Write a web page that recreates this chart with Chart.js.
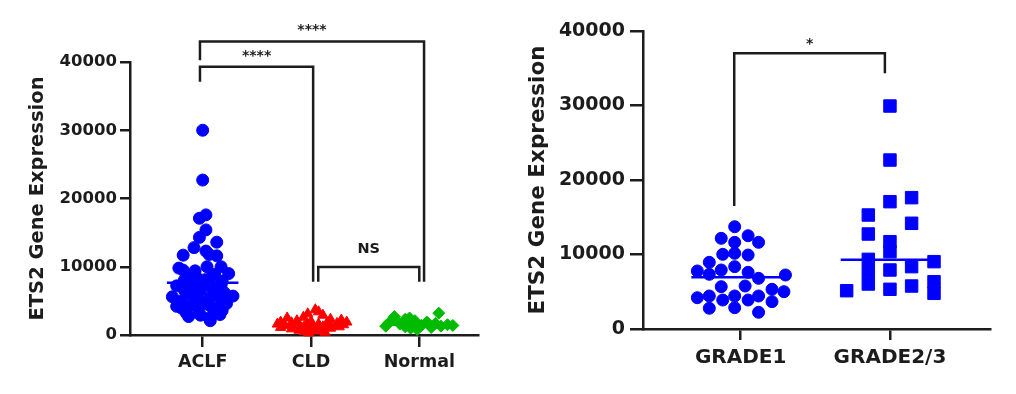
<!DOCTYPE html>
<html lang="en">
<head>
<meta charset="UTF-8">
<title>ETS2 Gene Expression</title>
<script src="https://cdn.jsdelivr.net/npm/chart.js"></script>
<style>
    body { margin: 0; background: #fff; }
    .panel { position: absolute; top: 0; height: 394px; }
    #leftPanel { left: 0; width: 500px; }
    #rightPanel { left: 500px; width: 516px; }
</style>
</head>
<body>
<div class="panel" id="leftPanel"><canvas id="leftChart"></canvas></div>
<div class="panel" id="rightPanel"><canvas id="rightChart"></canvas></div>
<script>
// ---- data, left panel ----
const leftCategories = ["ACLF", "CLD", "Normal"];
const yTicks = [0, 10000, 20000, 30000, 40000];
const yTitle = "ETS2 Gene Expression";

const aclfValues = [30000, 22700, 17600, 17100, 15400, 14300, 13600, 12800, 12300, 11700,
    11600, 11800, 10000, 10000, 9800, 9500, 9400, 9000, 8900, 8700,
    8500, 8300, 8100, 8000, 7900, 7500, 7300, 7200, 7000, 6800,
    6600, 6500, 6200, 6000, 5900, 5700, 5600, 5500, 5300, 5100,
    5000, 4800, 4600, 4500, 4400, 4200, 4000, 3900, 3800, 3600,
    3400, 3200, 3000, 2900, 2700, 2500, 2100];
const aclfJitter = [0, 0, 0.03, -0.03, 0.03, -0.03, 0.13, -0.08, 0.03, -0.18,
    0.13, 0.06, 0.04, 0.17, -0.22, -0.18, -0.07, 0.24, 0.11, -0.11,
    -0.06, 0.07, 0.02, -0.17, 0.18, 0, 0.17, -0.24, -0.09, 0.09,
    -0.17, -0.02, 0.2, -0.15, 0.13, 0.28, -0.28, 0.07, -0.07, 0.17,
    -0.2, 0, 0.22, 0.04, -0.11, -0.24, 0.09, -0.19, -0.04, 0.18,
    0.13, -0.15, 0.16, -0.02, -0.13, 0.06, 0.07];

const cldValues = [3700, 3400, 3100, 2900, 2600, 2500, 2300, 2200, 2100, 2000,
    1900, 1900, 1800, 1800, 1700, 1700, 1600, 1600, 1500, 1500,
    1400, 1400, 1300, 1300, 1200, 1200, 1100, 1100, 1000, 900,
    900, 800, 700, 600, 500, 400, 300];
const cldJitter = [0.04, 0.07, -0.03, 0.11, -0.07, -0.22, 0.18, 0.28, -0.13, 0,
    -0.28, 0.33, 0.15, -0.18, 0.24, -0.04, -0.31, 0.07, -0.11, 0.3,
    0.18, -0.24, 0.02, -0.15, 0.11, 0.26, -0.07, -0.28, 0.18, -0.02,
    -0.18, 0.09, -0.11, 0.04, -0.06, 0.13, -0.02];

const normalValues = [3200, 2700, 2500, 2300, 2100, 1900, 1800, 1700, 1600, 1500,
    1500, 1400, 1400, 1300, 1300, 1200, 1100, 1000, 800];
const normalJitter = [0.18, -0.23, -0.09, -0.13, -0.04, 0.07, -0.28, 0.15, -0.18, 0.26,
    -0.07, 0.31, 0.02, 0.2, -0.31, -0.13, 0.11, -0.08, -0.02];

const leftMedians = [7660, 1500, 1500];

// ---- data, right panel ----
const rightCategories = ["GRADE1", "GRADE2/3"];

const grade1Values = [13730, 12170, 12520, 11630, 11630, 10020, 10160, 9930, 8950, 8370,
    7920, 7790, 7340, 7610, 6800, 7250, 5680, 5770, 5330, 4200,
    4430, 3890, 4430, 3890, 4430, 3670, 5010, 2780, 2860, 2240];
const grade1Jitter = [-0.04, -0.13, 0.05, -0.04, 0.12, -0.12, -0.04, 0.05, -0.21, -0.04,
    -0.13, -0.29, -0.21, 0.05, 0.12, 0.3, -0.13, 0.03, 0.21, -0.29,
    -0.21, -0.12, -0.04, 0.05, 0.12, 0.21, 0.29, -0.21, -0.04, 0.12];

const grade23Values = [29930, 22680, 17090, 17630, 15300, 14190, 12750, 11720, 10380, 9350,
    7690, 6040, 7920, 8370, 9040, 6350, 4790, 5330, 5770, 5140];
const grade23Jitter = [0, 0, 0, 0.145, -0.145, 0.145, -0.145, 0, 0, -0.145,
    -0.145, -0.145, 0, 0.145, 0.295, 0.295, 0.295, 0, 0.145, -0.29];

const rightMedians = [6950, 9300];

// ---- helpers ----
const ink = "#1c1c1c";
const fontFamily = "'DejaVu Sans', sans-serif";

function groupPoints(values, jitter, center) {
    return values.map((v, i) => ({ x: center + jitter[i], y: v }));
}

function markSet(values, jitter, center, color, style, radius) {
    return {
        data: groupPoints(values, jitter, center),
        backgroundColor: color,
        borderColor: color,
        borderWidth: 1,
        pointStyle: style,
        pointRadius: radius,
        pointHoverRadius: radius,
        clip: false
    };
}

function medianLine(value, center, color) {
    return {
        data: [{ x: center - 0.33, y: value }, { x: center + 0.33, y: value }],
        showLine: true,
        pointRadius: 0,
        borderColor: color,
        borderWidth: 2.5,
        clip: false
    };
}

// significance brackets
const bracketPlugin = {
    id: "brackets",
    afterDraw(chart, args, opts) {
        const { ctx } = chart;
        const xs = chart.scales.x, ys = chart.scales.y;
        ctx.save();
        ctx.strokeStyle = ink;
        ctx.fillStyle = ink;
        ctx.lineWidth = 2.5;
        ctx.textAlign = "center";
        ctx.textBaseline = "middle";
        opts.items.forEach(b => {
            const x1 = xs.getPixelForValue(b.from);
            const x2 = xs.getPixelForValue(b.to);
            const yy = ys.getPixelForValue(b.level);
            ctx.beginPath();
            ctx.moveTo(x1, ys.getPixelForValue(b.leftEnd));
            ctx.lineTo(x1, yy);
            ctx.lineTo(x2, yy);
            ctx.lineTo(x2, ys.getPixelForValue(b.rightEnd));
            ctx.stroke();
            ctx.font = b.font;
            ctx.fillText(b.label, (x1 + x2) / 2, yy - b.gap);
        });
        ctx.restore();
    }
};

function axes(cfg) {
    return {
        x: {
            type: "linear",
            min: cfg.xMin,
            max: cfg.xMax,
            afterBuildTicks: s => { s.ticks = cfg.categories.map((c, i) => ({ value: i + 1 })); },
            afterFit: s => { s.height = cfg.xHeight; },
            ticks: {
                callback: v => cfg.categories[Math.round(v) - 1],
                color: ink,
                font: { family: fontFamily, weight: "bold", size: cfg.xFont },
                padding: cfg.xPad,
                maxRotation: 0,
                autoSkip: false
            },
            grid: { drawOnChartArea: false, drawTicks: true, tickLength: cfg.xTick, color: ink, lineWidth: 2.5 },
            border: { display: true, color: ink, width: 2.5 }
        },
        y: {
            type: "linear",
            min: 0,
            max: 40000,
            afterBuildTicks: s => { s.ticks = yTicks.map(v => ({ value: v })); },
            afterFit: s => { s.width = cfg.yWidth; },
            ticks: {
                callback: v => String(v),
                color: ink,
                font: { family: fontFamily, weight: "bold", size: cfg.yFont },
                padding: cfg.yPad
            },
            title: {
                display: true,
                text: yTitle,
                color: ink,
                font: { family: fontFamily, weight: "bold", size: cfg.titleFont },
                padding: { top: cfg.titlePad, bottom: 0 }
            },
            grid: { drawOnChartArea: false, drawTicks: true, tickLength: cfg.yTick, color: ink, lineWidth: 2.5 },
            border: { display: true, color: ink, width: 2.5 }
        }
    };
}

const blue = "#0000ff", red = "#ff0000", green = "#00bb00";

new Chart(document.getElementById("leftChart"), {
    type: "scatter",
    data: {
        datasets: [
            markSet(aclfValues, aclfJitter, 1, blue, "circle", 6),
            markSet(cldValues, cldJitter, 2, red, "triangle", 6),
            markSet(normalValues, normalJitter, 3, green, "rectRot", 6),
            medianLine(leftMedians[0], 1, blue),
            medianLine(leftMedians[1], 2, red),
            medianLine(leftMedians[2], 3, green)
        ]
    },
    options: {
        responsive: true,
        maintainAspectRatio: false,
        animation: false,
        layout: { padding: { top: 62, right: 22, left: 0, bottom: 0 } },
        scales: axes({
            categories: leftCategories, xMin: 0.329, xMax: 3.542, xHeight: 59,
            xFont: 17.5, xPad: 4.5, xTick: 12,
            yWidth: 130, yFont: 16.5, yPad: 3, yTick: 10,
            titleFont: 19.5, titlePad: 26
        }),
        plugins: {
            legend: { display: false },
            tooltip: { enabled: false },
            brackets: {
                items: [
                    { from: 0.975, to: 3.044, level: 43000, leftEnd: 40260, rightEnd: 7800, label: "****", font: "bold 14px " + fontFamily, gap: 11.4 },
                    { from: 0.975, to: 2.02, level: 39300, leftEnd: 37090, rightEnd: 7800, label: "****", font: "bold 14px " + fontFamily, gap: 10.2 },
                    { from: 2.067, to: 3.0, level: 9960, leftEnd: 7800, rightEnd: 7800, label: "NS", font: "bold 14.5px " + fontFamily, gap: 18 }
                ]
            }
        }
    },
    plugins: [bracketPlugin]
});

new Chart(document.getElementById("rightChart"), {
    type: "scatter",
    data: {
        datasets: [
            markSet(grade1Values, grade1Jitter, 1, blue, "circle", 6),
            markSet(grade23Values, grade23Jitter, 2, blue, "rect", 8.8),
            medianLine(rightMedians[0], 1, blue),
            medianLine(rightMedians[1], 2, blue)
        ]
    },
    options: {
        responsive: true,
        maintainAspectRatio: false,
        animation: false,
        layout: { padding: { top: 31, right: 26, left: 0, bottom: 0 } },
        scales: axes({
            categories: rightCategories, xMin: 0.346, xMax: 2.67, xHeight: 65,
            xFont: 20, xPad: 6, xTick: 11,
            yWidth: 143, yFont: 19, yPad: 5, yTick: 13,
            titleFont: 21.5, titlePad: 26
        }),
        plugins: {
            legend: { display: false },
            tooltip: { enabled: false },
            brackets: {
                items: [
                    { from: 0.957, to: 1.966, level: 37000, leftEnd: 16510, rightEnd: 34320, label: "*", font: "bold 14px " + fontFamily, gap: 9 }
                ]
            }
        }
    },
    plugins: [bracketPlugin]
});
</script>
</body>
</html>
